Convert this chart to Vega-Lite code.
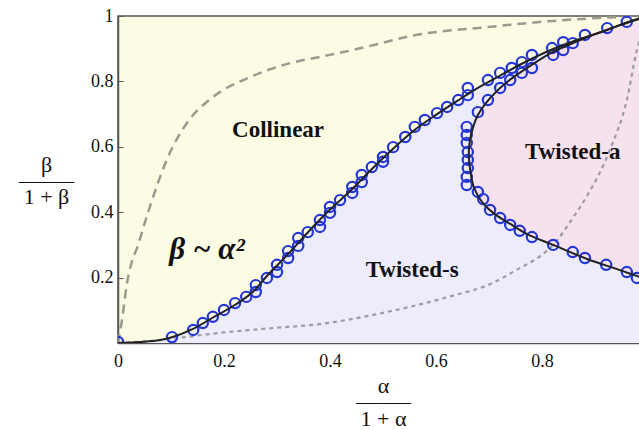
{
  "$schema": "https://vega.github.io/schema/vega-lite/v6.json",
  "width": 521,
  "height": 327,
  "autosize": {"type": "none"},
  "padding": {"left": 118, "top": 16, "right": 0, "bottom": 87},
  "config": {
    "view": {"fill": "#fcfce5", "stroke": "#555555", "strokeWidth": 1.5},
    "font": "Liberation Serif",
    "axis": {
      "grid": false,
      "domainColor": "#555555",
      "domainWidth": 1.5,
      "tickColor": "#555555",
      "tickWidth": 1,
      "labelFont": "Liberation Serif",
      "labelFontSize": 18,
      "labelColor": "#111111",
      "titleFont": "Liberation Serif",
      "titleFontSize": 22,
      "titleFontWeight": "normal",
      "titleColor": "#111111"
    }
  },
  "datasets": {
    "main": [
      {"x": 0, "y": 0}, {"x": 0.0415, "y": 0.003}, {"x": 0.079, "y": 0.009}, {"x": 0.1, "y": 0.017},
      {"x": 0.1415, "y": 0.043}, {"x": 0.179, "y": 0.078}, {"x": 0.221, "y": 0.117}, {"x": 0.258, "y": 0.162},
      {"x": 0.277, "y": 0.198}, {"x": 0.321, "y": 0.272}, {"x": 0.358, "y": 0.338}, {"x": 0.4, "y": 0.408},
      {"x": 0.4415, "y": 0.470}, {"x": 0.479, "y": 0.532}, {"x": 0.519, "y": 0.594}, {"x": 0.56, "y": 0.652},
      {"x": 0.602, "y": 0.700}, {"x": 0.6415, "y": 0.742}, {"x": 0.683, "y": 0.784}, {"x": 0.721, "y": 0.818},
      {"x": 0.762, "y": 0.854}, {"x": 0.821, "y": 0.899}, {"x": 0.858, "y": 0.922}, {"x": 0.923, "y": 0.957},
      {"x": 0.96, "y": 0.980}, {"x": 1, "y": 1}
    ],
    "ca": [
      {"o": 1, "x": 1.0, "y": 1.0}, {"o": 2, "x": 0.947, "y": 0.972}, {"o": 3, "x": 0.891, "y": 0.939},
      {"o": 4, "x": 0.821, "y": 0.890}, {"o": 5, "x": 0.783, "y": 0.853}, {"o": 6, "x": 0.734, "y": 0.798},
      {"o": 7, "x": 0.702, "y": 0.749}, {"o": 8, "x": 0.679, "y": 0.697}, {"o": 9, "x": 0.666, "y": 0.636},
      {"o": 10, "x": 0.662, "y": 0.590}, {"o": 11, "x": 0.664, "y": 0.535}, {"o": 12, "x": 0.672, "y": 0.474},
      {"o": 13, "x": 0.687, "y": 0.431}, {"o": 14, "x": 0.711, "y": 0.394}, {"o": 15, "x": 0.740, "y": 0.364},
      {"o": 16, "x": 0.772, "y": 0.333}, {"o": 17, "x": 0.821, "y": 0.300}, {"o": 18, "x": 0.885, "y": 0.257},
      {"o": 19, "x": 0.947, "y": 0.223}, {"o": 20, "x": 1.0, "y": 0.193}
    ],
    "dash": [
      {"x": 0, "y": 0}, {"x": 0.0075, "y": 0.07}, {"x": 0.017, "y": 0.183}, {"x": 0.026, "y": 0.248},
      {"x": 0.036, "y": 0.291}, {"x": 0.055, "y": 0.391}, {"x": 0.074, "y": 0.483}, {"x": 0.092, "y": 0.56},
      {"x": 0.13, "y": 0.673}, {"x": 0.179, "y": 0.752}, {"x": 0.249, "y": 0.813}, {"x": 0.325, "y": 0.856},
      {"x": 0.381, "y": 0.875}, {"x": 0.443, "y": 0.896}, {"x": 0.57, "y": 0.944}, {"x": 0.696, "y": 0.966},
      {"x": 0.821, "y": 0.985}, {"x": 0.947, "y": 0.997}, {"x": 1, "y": 1}
    ],
    "dot": [
      {"x": 0, "y": 0}, {"x": 0.06, "y": 0.006}, {"x": 0.111, "y": 0.015}, {"x": 0.192, "y": 0.031},
      {"x": 0.287, "y": 0.045}, {"x": 0.381, "y": 0.058}, {"x": 0.508, "y": 0.095}, {"x": 0.632, "y": 0.145},
      {"x": 0.702, "y": 0.18}, {"x": 0.758, "y": 0.229}, {"x": 0.796, "y": 0.265}, {"x": 0.821, "y": 0.300},
      {"x": 0.858, "y": 0.382}, {"x": 0.885, "y": 0.45}, {"x": 0.928, "y": 0.59}, {"x": 0.96, "y": 0.743},
      {"x": 0.979, "y": 0.896}, {"x": 1, "y": 1}
    ],
    "pts": [
      {"x": 0.0, "y": 0.003}, {"x": 0.102, "y": 0.018}, {"x": 0.142, "y": 0.040}, {"x": 0.160, "y": 0.061},
      {"x": 0.179, "y": 0.080}, {"x": 0.200, "y": 0.101}, {"x": 0.221, "y": 0.122}, {"x": 0.242, "y": 0.141},
      {"x": 0.260, "y": 0.156}, {"x": 0.260, "y": 0.177}, {"x": 0.281, "y": 0.199}, {"x": 0.300, "y": 0.217},
      {"x": 0.300, "y": 0.239}, {"x": 0.321, "y": 0.260}, {"x": 0.321, "y": 0.281}, {"x": 0.340, "y": 0.297},
      {"x": 0.340, "y": 0.321}, {"x": 0.358, "y": 0.339}, {"x": 0.381, "y": 0.355}, {"x": 0.381, "y": 0.376},
      {"x": 0.400, "y": 0.398}, {"x": 0.400, "y": 0.416}, {"x": 0.419, "y": 0.437}, {"x": 0.442, "y": 0.459},
      {"x": 0.442, "y": 0.477}, {"x": 0.460, "y": 0.492}, {"x": 0.460, "y": 0.514}, {"x": 0.479, "y": 0.538},
      {"x": 0.500, "y": 0.554}, {"x": 0.500, "y": 0.569}, {"x": 0.519, "y": 0.599}, {"x": 0.542, "y": 0.630},
      {"x": 0.560, "y": 0.661}, {"x": 0.579, "y": 0.682}, {"x": 0.602, "y": 0.703}, {"x": 0.621, "y": 0.722},
      {"x": 0.642, "y": 0.743}, {"x": 0.660, "y": 0.758}, {"x": 0.660, "y": 0.780}, {"x": 0.698, "y": 0.804},
      {"x": 0.721, "y": 0.826}, {"x": 0.743, "y": 0.841}, {"x": 0.762, "y": 0.859}, {"x": 0.781, "y": 0.881},
      {"x": 0.819, "y": 0.902}, {"x": 0.840, "y": 0.920}, {"x": 0.858, "y": 0.917}, {"x": 0.881, "y": 0.942},
      {"x": 0.923, "y": 0.963}, {"x": 0.960, "y": 0.982},
      {"x": 0.821, "y": 0.881}, {"x": 0.840, "y": 0.896}, {"x": 0.781, "y": 0.841}, {"x": 0.762, "y": 0.826},
      {"x": 0.740, "y": 0.804}, {"x": 0.721, "y": 0.780}, {"x": 0.698, "y": 0.743}, {"x": 0.679, "y": 0.706},
      {"x": 0.658, "y": 0.661}, {"x": 0.658, "y": 0.636}, {"x": 0.658, "y": 0.612}, {"x": 0.660, "y": 0.584},
      {"x": 0.660, "y": 0.560}, {"x": 0.660, "y": 0.535}, {"x": 0.658, "y": 0.508}, {"x": 0.658, "y": 0.483},
      {"x": 0.679, "y": 0.462}, {"x": 0.689, "y": 0.440}, {"x": 0.702, "y": 0.407}, {"x": 0.721, "y": 0.382},
      {"x": 0.740, "y": 0.361}, {"x": 0.758, "y": 0.343}, {"x": 0.781, "y": 0.324}, {"x": 0.821, "y": 0.300},
      {"x": 0.858, "y": 0.278}, {"x": 0.881, "y": 0.260}, {"x": 0.921, "y": 0.239}, {"x": 0.960, "y": 0.217},
      {"x": 0.979, "y": 0.199}
    ],
    "labels": [
      {"x": 0.302, "y": 0.651, "t": "Collinear"},
      {"x": 0.858, "y": 0.584, "t": "Twisted-a"},
      {"x": 0.555, "y": 0.223, "t": "Twisted-s"}
    ],
    "law": [
      {"x": 0.168, "y": 0.285, "t": "β ~ α²"}
    ]
  },
  "encoding": {
    "x": {
      "field": "x", "type": "quantitative",
      "scale": {"domain": [0, 0.983], "nice": false, "zero": false},
      "axis": {
        "values": [0, 0.2, 0.4, 0.6, 0.8], "format": ".1~f", "labelFlush": false,
        "tickSize": -5, "labelPadding": 14,
        "title": ["α", "——–", "1 + α"], "titleAngle": 0, "titleX": 265, "titleY": 49,
        "titleAlign": "center", "titleBaseline": "alphabetic", "titleLineHeight": 16.5
      }
    },
    "y": {
      "field": "y", "type": "quantitative",
      "scale": {"domain": [0, 1], "nice": false, "zero": false},
      "axis": {
        "values": [0.2, 0.4, 0.6, 0.8, 1], "format": ".1~f", "labelFlush": false,
        "tickSize": -5, "labelPadding": 10,
        "title": ["β", "——–", "1 + β"], "titleAngle": 0, "titleX": -72, "titleY": 155,
        "titleAlign": "center", "titleBaseline": "alphabetic", "titleLineHeight": 16
      }
    }
  },
  "layer": [
    {
      "data": {"name": "main"},
      "mark": {"type": "area", "color": "#ececfa", "opacity": 1, "interpolate": "monotone", "clip": true},
      "encoding": {"y2": {"datum": 0}}
    },
    {
      "data": {"name": "ca"},
      "mark": {"type": "area", "orient": "horizontal", "color": "#f6e1ee", "opacity": 1, "interpolate": "monotone", "clip": true},
      "encoding": {"x2": {"datum": 1}}
    },
    {
      "data": {"name": "dash"},
      "mark": {"type": "line", "color": "#9a9a8e", "strokeWidth": 2.5, "strokeDash": [9, 6], "interpolate": "monotone", "clip": true}
    },
    {
      "data": {"name": "dot"},
      "mark": {"type": "line", "color": "#9c9c9c", "strokeWidth": 2.2, "strokeDash": [4, 4], "interpolate": "monotone", "clip": true}
    },
    {
      "data": {"name": "pts"},
      "mark": {"type": "point", "shape": "circle", "filled": false, "color": "#2536d6", "strokeWidth": 2.2, "size": 105, "opacity": 1, "clip": true}
    },
    {
      "data": {"name": "main"},
      "mark": {"type": "line", "color": "#222222", "strokeWidth": 2, "interpolate": "monotone", "clip": true}
    },
    {
      "data": {"name": "ca"},
      "mark": {"type": "line", "color": "#222222", "strokeWidth": 2, "interpolate": "catmull-rom", "clip": true},
      "encoding": {"order": {"field": "o", "type": "quantitative"}}
    },
    {
      "data": {"name": "labels"},
      "mark": {"type": "text", "font": "Liberation Serif", "fontWeight": "bold", "fontSize": 23, "color": "#111111", "baseline": "middle"},
      "encoding": {"text": {"field": "t"}}
    },
    {
      "data": {"name": "law"},
      "mark": {"type": "text", "font": "Liberation Serif", "fontWeight": "bold", "fontStyle": "italic", "fontSize": 31, "color": "#111111", "baseline": "middle"},
      "encoding": {"text": {"field": "t"}}
    }
  ]
}
